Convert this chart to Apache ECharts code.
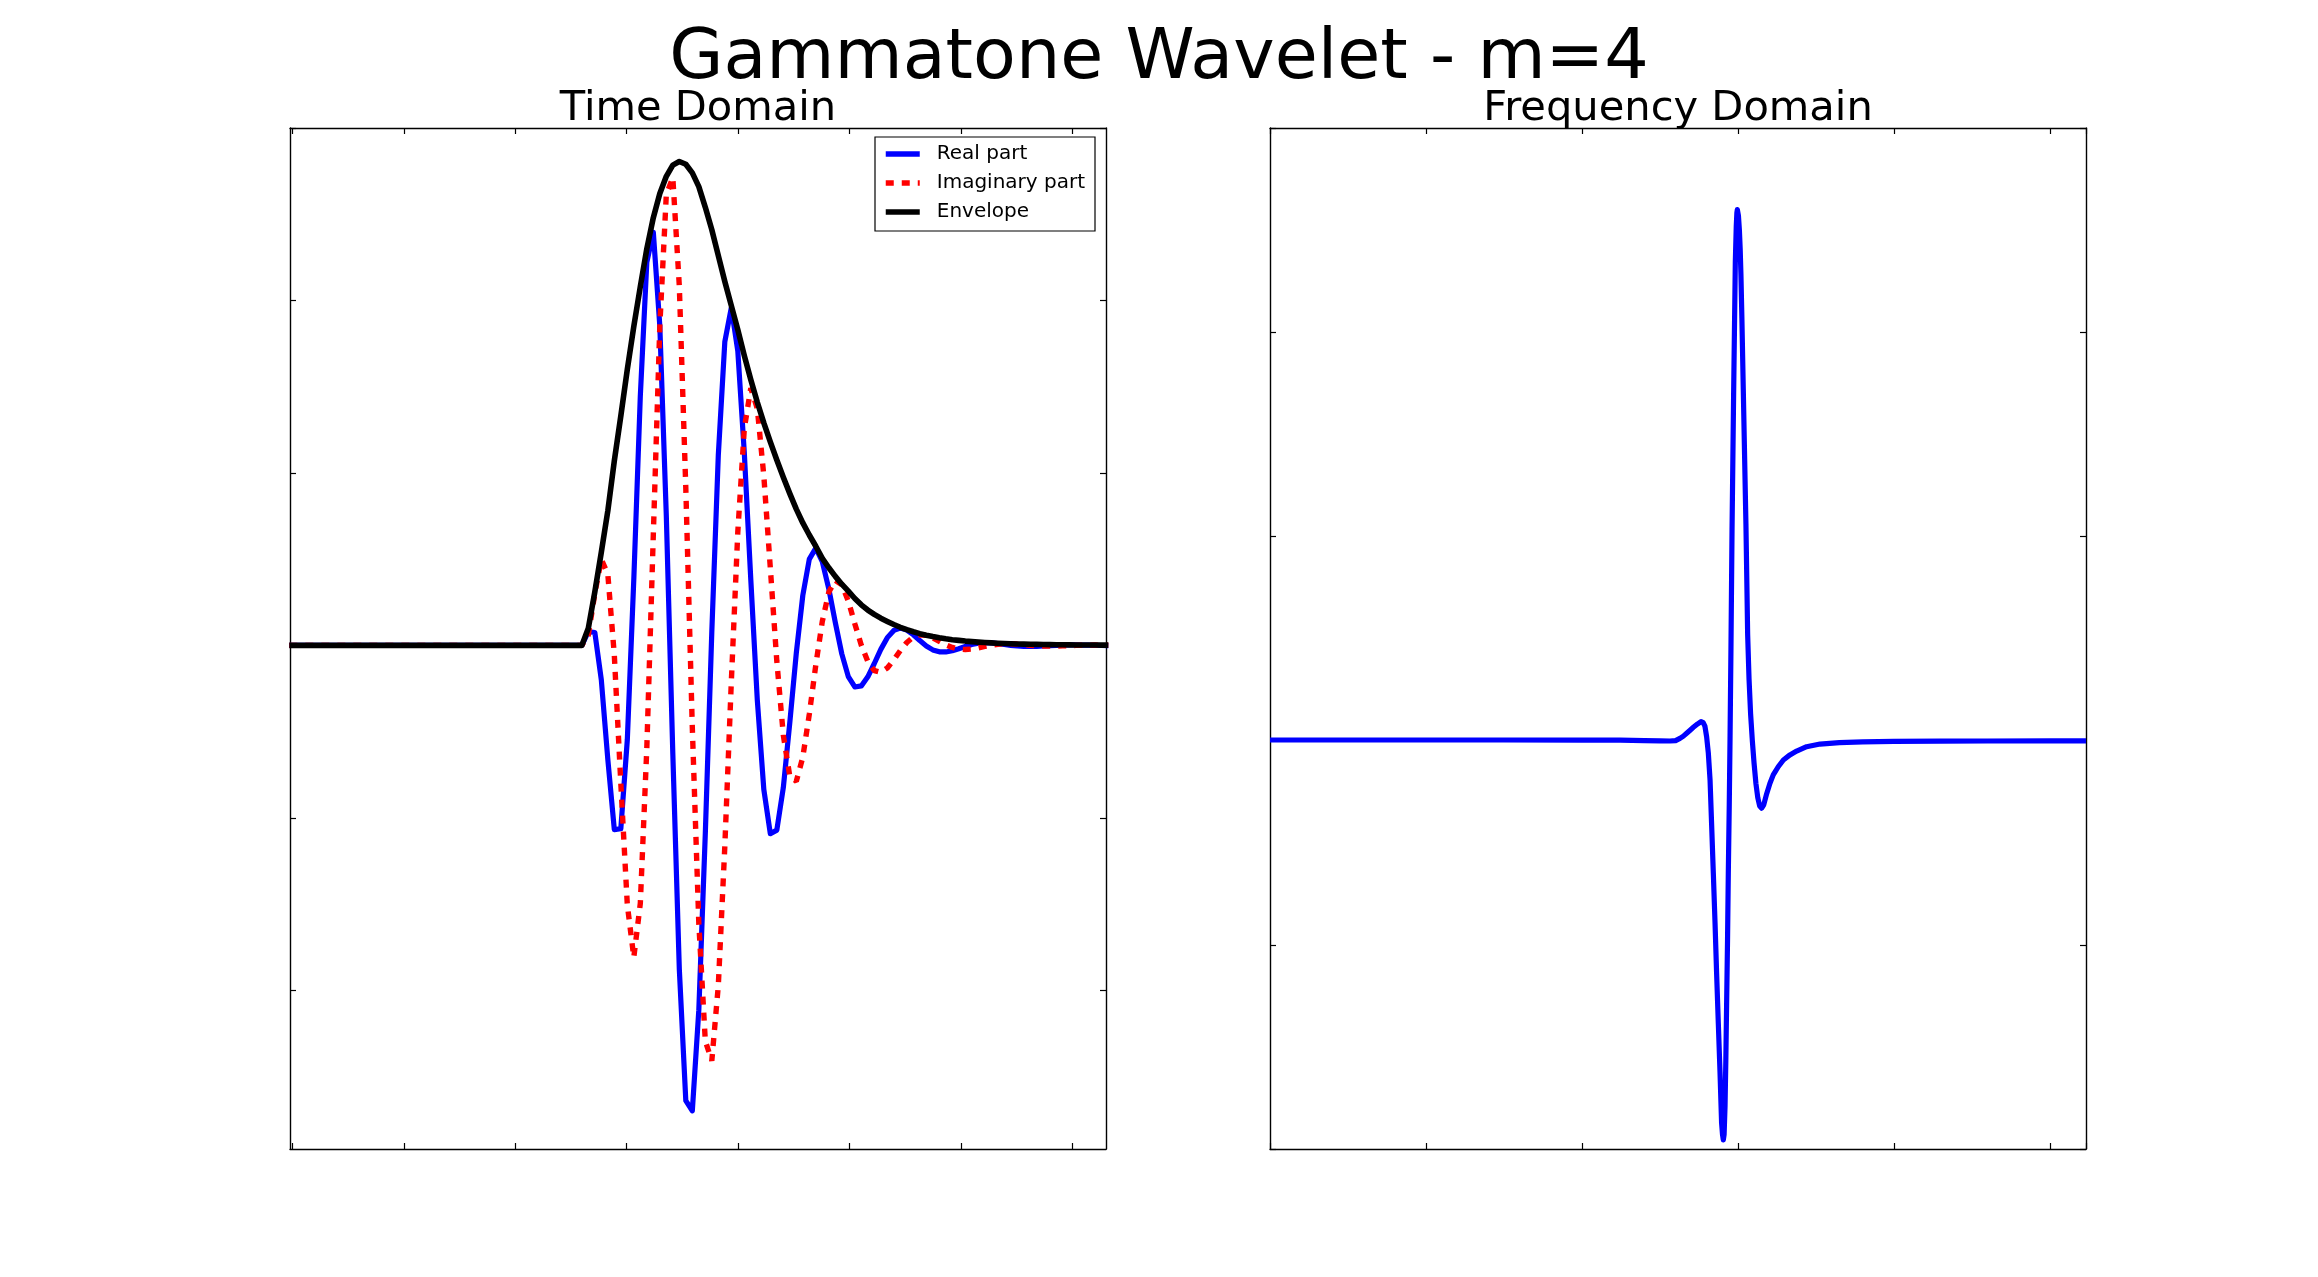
<!DOCTYPE html>
<html>
<head>
<meta charset="utf-8">
<script src="https://cdn.jsdelivr.net/npm/echarts@6/dist/echarts.min.js"></script>
<style>
html,body{margin:0;padding:0;background:#ffffff;}
#chart{width:2318px;height:1277px;}
</style>
</head>
<body>
<div id="chart"></div>
<script>
// ---------------- data ----------------
// time-domain sampling grid (127 samples)
const timeStart = -0.0275;
const timeStep = 0.05833;

const realPart = [
0,0,0,0,0, 0,0,0,0,0, 0,0,0,0,0, 0,0,0,0,0, 0,0,0,0,0, 0,0,0,0,0, 0,0,0,0,0, 0,0,0,0,0, 0,0,0,0,0,
0, 0.08, 0.075, -0.2, -0.661, -1.068, -1.063, -0.547, 0.385, 1.446, 2.222, 2.396, 1.852, 0.751, -0.627,
-1.877, -2.639, -2.699, -2.115, -1.09, 0.08, 1.103, 1.76, 1.958, 1.707, 1.116, 0.380, -0.317, -0.835,
-1.092, -1.071, -0.825, -0.447, -0.044, 0.290, 0.500, 0.564, 0.485, 0.328, 0.133, -0.049, -0.181, -0.241,
-0.235, -0.182, -0.105, -0.023, 0.045, 0.087, 0.101, 0.089, 0.062, 0.028, -0.003, -0.026, -0.037, -0.038,
-0.031, -0.019, -0.006, 0.005, 0.0125, 0.0153, 0.0144, 0.0106, 0.0055, 0.0004, -0.0036, -0.0059, -0.0064,
-0.0055, -0.0036, -0.0014, 0.0006, 0.002, 0.0027, 0.0027, 0.0021, 0.0012, 0.0002, -0.0006, -0.0011
];

const imagPart = [
0,0,0,0,0, 0,0,0,0,0, 0,0,0,0,0, 0,0,0,0,0, 0,0,0,0,0, 0,0,0,0,0, 0,0,0,0,0, 0,0,0,0,0, 0,0,0,0,0,
0, 0.06, 0.30, 0.50, 0.413, -0.056, -0.80, -1.504, -1.809, -1.496, -0.596, 0.642, 1.852, 2.614, 2.713,
2.085, 0.91, -0.477, -1.612, -2.294, -2.408, -1.973, -1.165, -0.213, 0.659, 1.257, 1.492, 1.373, 0.984,
0.450, -0.091, -0.520, -0.759, -0.788, -0.648, -0.399, -0.113, 0.139, 0.309, 0.377, 0.352, 0.257, 0.126,
0.001, -0.093, -0.146, -0.156, -0.131, -0.084, -0.03, 0.017, 0.049, 0.062, 0.059, 0.044, 0.024, 0.0035,
-0.012, -0.022, -0.024, -0.021, -0.0143, -0.006, 0.0015, 0.0069, 0.0097, 0.0097, 0.0077, 0.0045, 0.0012,
-0.0017, -0.0035, -0.0042, -0.0039, -0.0027, -0.0013, 0, 0.0011, 0.0017, 0.0019, 0.0016, 0.001
];

const envelope = [
0,0,0,0,0, 0,0,0,0,0, 0,0,0,0,0, 0,0,0,0,0, 0,0,0,0,0, 0,0,0,0,0, 0,0,0,0,0, 0,0,0,0,0, 0,0,0,0,0,
0, 0.10, 0.31, 0.54, 0.78, 1.07, 1.33, 1.60, 1.85, 2.08, 2.30, 2.48, 2.62, 2.72, 2.785,
2.806, 2.79, 2.74, 2.66, 2.54, 2.41, 2.26, 2.11, 1.97, 1.83, 1.68, 1.54, 1.41, 1.29,
1.18, 1.075, 0.975, 0.88, 0.79, 0.71, 0.64, 0.575, 0.505, 0.45, 0.40, 0.355, 0.315, 0.272,
0.235, 0.205, 0.18, 0.158, 0.139, 0.121, 0.105, 0.091, 0.079, 0.068, 0.059, 0.051, 0.044, 0.038,
0.033, 0.029, 0.025, 0.022, 0.019, 0.0165, 0.0145, 0.0127, 0.0111, 0.0097, 0.0085, 0.0074, 0.0065,
0.0057, 0.005, 0.0044, 0.0039, 0.0034, 0.003, 0.0027, 0.0024, 0.0021, 0.0019, 0.0017, 0.0015
];

// frequency-domain curve
const freqAxis = [
0, 0.5, 1.0, 1.5, 2.0, 2.244, 2.4, 2.5, 2.564, 2.6, 2.628, 2.65, 2.671, 2.693, 2.714,
2.74, 2.763, 2.777, 2.788, 2.799, 2.810, 2.821, 2.831, 2.842, 2.853, 2.863, 2.874, 2.885, 2.895, 2.901,
2.906, 2.911, 2.917, 2.922, 2.927, 2.933, 2.938, 2.944, 2.949, 2.955, 2.962, 2.972, 2.983, 2.989, 2.993,
2.996, 3.003, 3.009, 3.014, 3.019, 3.025, 3.034, 3.051, 3.062, 3.071, 3.081, 3.092, 3.103, 3.115, 3.127,
3.139, 3.152, 3.165, 3.184, 3.205, 3.226, 3.258, 3.291, 3.333, 3.376, 3.440, 3.526, 3.65, 3.8, 4.0, 4.3, 4.6, 5.0, 5.231
];
const freqResponse = [
0.003, 0.003, 0.003, 0.003, 0.002, 0.002, 0.0, -0.001, -0.002, 0.0, 0.011, 0.022, 0.036, 0.051, 0.065,
0.081, 0.093, 0.088, 0.071, 0.019, -0.062, -0.193, -0.41, -0.65, -0.895, -1.139, -1.385, -1.628, -1.873, -1.93,
-1.955, -1.93, -1.79, -1.57, -1.30, -0.98, -0.65, -0.32, 0.003, 0.453, 1.04, 1.693, 2.346, 2.52, 2.585,
2.60, 2.57, 2.50, 2.41, 2.28, 2.07, 1.72, 1.06, 0.52, 0.30, 0.13, 0.0, -0.11, -0.21, -0.28,
-0.32, -0.331, -0.315, -0.26, -0.209, -0.168, -0.128, -0.095, -0.07, -0.051, -0.030, -0.017, -0.010, -0.006, -0.004, -0.003, -0.002, -0.001, -0.001
];

const timeTicks = [0, 1, 2, 3, 4, 5, 6, 7];
const timeValueTicks = [-2, -1, 0, 1, 2, 3];

const legendNames = ['Real part', 'Imaginary part', 'Envelope'];
const mainTitle = 'Gammatone Wavelet - m=4';
const subTitles = ['Time Domain', 'Frequency Domain'];

// ---------------- chart ----------------
const FONT = "'DejaVu Sans', sans-serif";
const timeAxis = realPart.map((_, i) => timeStart + i * timeStep);
const pairs = (xs, ys) => xs.map((x, i) => [x, ys[i]]);

function makeAxis(gridIndex, position, min, max, interval, customTicks) {
  const ax = {
    type: 'value', gridIndex: gridIndex, position: position, min: min, max: max,
    axisLabel: { show: false },
    splitLine: { show: false },
    axisLine: { show: true, onZero: false, lineStyle: { color: '#000', width: 1.4 } },
    axisTick: { show: true, inside: true, length: 6, lineStyle: { color: '#000', width: 1.2 } }
  };
  if (interval != null) ax.interval = interval;
  if (customTicks) ax.axisTick.customValues = customTicks;
  return ax;
}

const chart = echarts.init(document.getElementById('chart'), null, { renderer: 'canvas', width: 2318, height: 1277 });

const option = {
  animation: false,
  backgroundColor: '#ffffff',
  grid: [
    { left: 290, top: 128, width: 816, height: 1021, containLabel: false, outerBoundsMode: 'none' },
    { left: 1270, top: 128, width: 816, height: 1021, containLabel: false, outerBoundsMode: 'none' }
  ],
  xAxis: [
    makeAxis(0, 'bottom', -0.0215, 7.3015, null, timeTicks),
    makeAxis(0, 'top', -0.0215, 7.3015, null, timeTicks),
    makeAxis(1, 'bottom', 0, 5.231, 1, null),
    makeAxis(1, 'top', 0, 5.231, 1, null)
  ],
  yAxis: [
    makeAxis(0, 'left', -2.92, 3, null, timeValueTicks),
    makeAxis(0, 'right', -2.92, 3, null, timeValueTicks),
    makeAxis(1, 'left', -2, 3, 1, null),
    makeAxis(1, 'right', -2, 3, 1, null)
  ],
  legend: {
    data: legendNames,
    orient: 'vertical',
    left: 875, top: 137,
    padding: [7, 10, 9, 8],
    itemGap: 9, itemWidth: 34, itemHeight: 20,
    backgroundColor: '#ffffff',
    borderColor: '#000', borderWidth: 1.2, borderRadius: 0,
    selectedMode: false,
    itemStyle: { opacity: 0, borderWidth: 0 },
    lineStyle: { width: 5.5 },
    textStyle: { fontFamily: FONT, fontSize: 20, color: '#000', lineHeight: 20, padding: [0, 0, 0, 12] }
  },
  graphic: [
    { type: 'text', x: 1159, y: 60, silent: true,
      style: { text: mainTitle, font: '70px ' + FONT, fill: '#000', align: 'center', verticalAlign: 'middle' } },
    { type: 'text', x: 698, y: 109, silent: true,
      style: { text: subTitles[0], font: '41.6px ' + FONT, fill: '#000', align: 'center', verticalAlign: 'middle' } },
    { type: 'text', x: 1678, y: 109, silent: true,
      style: { text: subTitles[1], font: '41.6px ' + FONT, fill: '#000', align: 'center', verticalAlign: 'middle' } }
  ],
  series: [
    { name: legendNames[0], type: 'line', xAxisIndex: 0, yAxisIndex: 0, data: pairs(timeAxis, realPart),
      symbol: 'none', showSymbol: false, smooth: false, clip: true, z: 2,
      itemStyle: { color: '#0000ff' }, lineStyle: { color: '#0000ff', width: 5.2, join: 'round' } },
    { name: legendNames[1], type: 'line', xAxisIndex: 0, yAxisIndex: 0, data: pairs(timeAxis, imagPart),
      symbol: 'none', showSymbol: false, smooth: false, clip: true, z: 3,
      itemStyle: { color: '#ff0000' }, lineStyle: { color: '#ff0000', width: 5.4, type: [8, 8], cap: 'butt' } },
    { name: legendNames[2], type: 'line', xAxisIndex: 0, yAxisIndex: 0, data: pairs(timeAxis, envelope),
      symbol: 'none', showSymbol: false, smooth: false, clip: true, z: 4,
      itemStyle: { color: '#000000' }, lineStyle: { color: '#000000', width: 5.6, join: 'round' } },
    { name: 'Frequency response', type: 'line', xAxisIndex: 2, yAxisIndex: 2, data: pairs(freqAxis, freqResponse),
      symbol: 'none', showSymbol: false, smooth: false, clip: true, z: 2,
      itemStyle: { color: '#0000ff' }, lineStyle: { color: '#0000ff', width: 5.2, join: 'round' } }
  ]
};
chart.setOption(option);
</script>
</body>
</html>
